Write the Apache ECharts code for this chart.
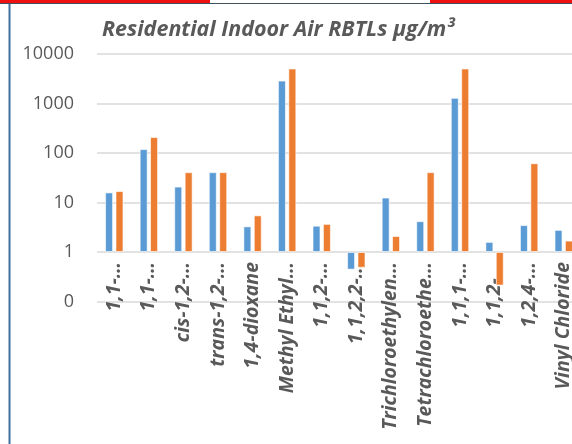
<!DOCTYPE html>
<html>
<head>
<meta charset="utf-8">
<script src="https://cdn.jsdelivr.net/npm/echarts@6/dist/echarts.min.js"></script>
<style>
  html, body { margin: 0; padding: 0; background: #fff; }
  #chart { width: 572px; height: 444px; }
</style>
</head>
<body>
<div id="chart"></div>
<script>
// compound names, truncated the way the source chart shows them
const categories = [
  '1,1-…', '1,1-…', 'cis-1,2-…', 'trans-1,2-…', '1,4-dioxane', 'Methyl Ethyl…',
  '1,1,2-…', '1,1,2,2-…', 'Trichloroethylen…', 'Tetrachloroethe…', '1,1,1-…',
  '1,1,2-…', '1,2,4-…', 'Vinyl Chloride'
]
const blueValues = [16, 120, 21, 41, 3.3, 2900, 3.4, 0.44, 12.6, 4.2, 1300, 1.6, 3.5, 2.8]
const orangeValues = [17, 210, 41, 41, 5.5, 5100, 3.7, 0.48, 2.1, 41, 5100, 0.21, 62, 1.7]
// y tick labels, one per decade from 0.1 up to 10000
const yTickLabels = ['0', '1', '10', '100', '1000', '10000']

const chart = echarts.init(document.getElementById('chart'))

function buildOption() {
  const barBase = {
    type: 'bar',
    barWidth: 8,
    barGap: '30%',
    itemStyle: { borderColor: 'rgba(255,255,255,0.6)', borderWidth: 1 },
  }
  return {
    animation: false,
    title: {
      text: 'Residential Indoor Air RBTLs µg/m³',
      left: 97,
      top: 14,
      textStyle: {
        fontFamily: 'Open Sans',
        fontSize: 21.5,
        fontWeight: 'bold',
        fontStyle: 'italic',
        color: '#595959',
      },
    },
    grid: { left: 97, right: -9, top: 54, bottom: 142.5, outerBoundsMode: 'none' },
    xAxis: {
      type: 'category',
      data: categories,
      offset: -49.5,
      axisLine: { show: false },
      axisTick: { show: false },
      axisLabel: {
        interval: 0,
        rotate: 90,
        margin: 10,
        fontFamily: 'Open Sans',
        fontSize: 19.5,
        fontStyle: 'italic',
        fontWeight: 'bold',
        color: '#595959',
      },
    },
    yAxis: {
      type: 'log',
      logBase: 10,
      min: 0.1,
      max: 10000,
      axisLine: { show: false },
      axisTick: { show: false },
      axisLabel: {
        margin: 23,
        fontFamily: 'Open Sans',
        fontSize: 18,
        color: '#595959',
        formatter: (v) => yTickLabels[Math.round(Math.log10(v)) + 1],
      },
      splitLine: { lineStyle: { color: '#d9d9d9', width: 1.5 } },
    },
    series: [
      Object.assign({ name: 'Series1', data: blueValues, color: '#5b9bd5' }, barBase),
      Object.assign({ name: 'Series2', data: orangeValues, color: '#ed7d31' }, barBase),
    ],
    graphic: [
      { type: 'rect', shape: { x: 0, y: 0, width: 210, height: 3 }, style: { fill: '#f01010' } },
      { type: 'rect', shape: { x: 430, y: 0, width: 142, height: 3 }, style: { fill: '#f01010' } },
      { type: 'line', shape: { x1: 0, y1: 3.5, x2: 572, y2: 3.5 }, style: { stroke: '#40525f', lineWidth: 1 } },
      { type: 'line', shape: { x1: 9.5, y1: 4, x2: 9.5, y2: 444 }, style: { stroke: '#41719c', lineWidth: 2 } },
    ],
  }
}

chart.setOption(buildOption())
</script>
</body>
</html>
